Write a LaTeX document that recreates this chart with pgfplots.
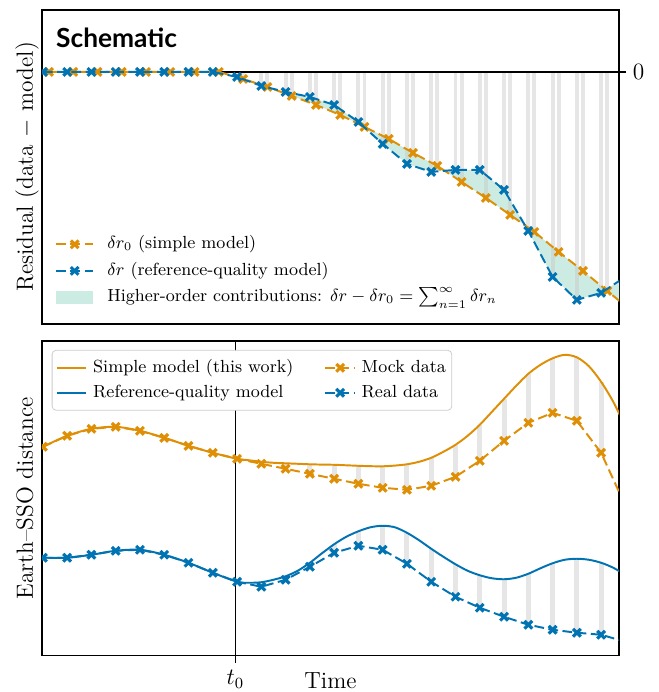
\documentclass[border=0pt]{standalone}
\usepackage{fontspec}
\usepackage{pgfplots}
\usepackage{pgfplotstable}
\pgfplotsset{compat=1.18}
\usepgfplotslibrary{fillbetween}
\newfontfamily\lato{Lato}
\definecolor{cbo}{HTML}{DE8F05}
\definecolor{cbb}{HTML}{0173B2}
\definecolor{cbg}{HTML}{029E73}
\definecolor{bargray}{HTML}{C8C8C8}

% top panel residuals
\pgfplotstableread{
x y
0 0
1 0
2 0
3 0
4 0
5 0
6 0
7 0
8 -5
9 -14
10 -20
11 -25
12 -33
13 -50
14 -72
15 -92
16 -100
17 -98
18 -98
19 -118
20 -159
21 -205
22 -228
23 -221
24 -205
}\topblue
\pgfplotstableread{
x y
0.25 0
1.25 0
2.25 0
3.25 0
4.25 0
5.25 0
6.25 0
7.25 0
8.25 -7
9.25 -15
10.25 -24
11.25 -33
12.25 -43
13.25 -55
14.25 -67
15.25 -81
16.25 -94
17.25 -110
18.25 -126
19.25 -143
20.25 -160
21.25 -180
22.25 -199
23.25 -219
24.25 -239
}\toporange

% bottom panel: data (d) and model at data epochs (m)
\pgfplotstableread{
x d m
0 209 209
1 220 220
2 227 227
3 229 229
4 225 225
5 218 218
6 210 210
7 203 203
8 197 197
9 192 194
10 187 192.5
11 182 191.5
12 177 191
13 172 190
14 168 189.5
15 166 191.5
16 170 198
17 179 211
18 195 231
19 215 257
20 233 282
21 243 297.5
22 235 298.5
23 203 274
24 150 229
}\mock
\pgfplotstableread{
x d m
0 98 98
1 98 98
2 101 101
3 105 105
4 106 106
5 101 101
6 93 93
7 83 83
8 74 74
9 69 73.5
10 76 79.5
11 89 93
12 103 111.5
13 110 124.5
14 106 130
15 92 123
16 74 107
17 59 91.5
18 48 80.5
19 39 76.5
20 31 82
21 26 92.5
22 23 97
23 21 93
24 14 81
}\real

% model curves
\pgfplotstableread{
x y
-0.5 203
0 209
1 220
2 227
3 229
4 225
5 218
6 210
7 203
8 197
8.5 195.5
9 194
9.5 193
10 192.5
10.5 192
11 191.5
11.5 191.2
12 191
12.5 190.5
13 190
13.5 189.6
14 189.5
14.5 190.2
15 191.5
15.5 194
16 198
16.5 204
17 211
17.5 220
18 231
18.5 244
19 257
19.5 270
20 282
20.5 291
21 297.5
21.5 301
22 298.5
22.5 289.5
23 274
23.5 254
24 229
24.5 200
}\simplemodel
\pgfplotstableread{
x y
-0.5 97
0 98
1 98
2 101
3 105
4 106
5 101
6 93
7 83
8 74
8.5 73
9 73.5
9.5 76
10 79.5
10.5 85
11 93
11.5 102.5
12 111.5
12.5 119
13 124.5
13.5 128.5
14 130
14.5 128.5
15 123
15.5 115.5
16 107
16.5 99
17 91.5
17.5 85
18 80.5
18.5 77.5
19 76.5
19.5 78
20 82
20.5 87.5
21 92.5
21.5 96
22 97
22.5 96
23 93
23.5 88
24 81
24.5 74
}\refmodel

\pgfplotsset{
 dashdata/.style={line width=1pt, dash pattern=on 5pt off 2.3pt, mark=x, mark size=2.8pt, mark options={solid, line width=1.6pt}},
 modelline/.style={line width=1pt, smooth, tension=0.5},
 lgtop/.style={legend image code/.code={\draw[mark repeat=2,mark phase=2] plot coordinates {(0cm,0cm) (0.335cm,0cm) (0.67cm,0cm)};}},
 lgbot/.style={legend image code/.code={\draw[mark repeat=2,mark phase=2] plot coordinates {(0cm,0cm) (0.265cm,0cm) (0.53cm,0cm)};}},
}

\begin{document}
\begin{tikzpicture}
% ---------------- top panel ----------------
\begin{axis}[
 at={(0,0)}, anchor=south west, scale only axis, width=296pt, height=161pt,
 xmin=-0.04, xmax=23.74, ymin=-252, ymax=62,
 xtick=\empty, ytick={0}, yticklabels={$0$}, ytick pos=right, yticklabel pos=right,
 tick align=outside, major tick length=3.6pt,
 tick style={black, line width=0.6pt},
 axis line style={line width=0.7pt},
 ticklabel style={font=\fontsize{12}{14}\selectfont},
 ylabel={Residual (data $-$ model)},
 ylabel style={at={(axis description cs:-0.0155,0.5)}, anchor=base, font=\fontsize{12}{14}\selectfont},
 clip marker paths=true,
 legend cell align=left,
 legend style={at={(axis description cs:0.012,0.035)}, anchor=south west, draw=none, fill=none,
   font=\fontsize{9}{11}\selectfont, nodes={inner sep=1pt, text height=7pt, text depth=2.5pt},
   row sep=2.1pt, /tikz/column 1/.style={column sep=5.7pt}},
]
\addplot[draw=none, name path=B, forget plot] table[x=x,y=y] {\topblue};
\addplot[draw=none, name path=O, forget plot] table[x=x,y=y] {\toporange};
\addplot[draw=none, fill=cbg!20, forget plot] fill between[of=B and O];
\addplot[ycomb, bargray, opacity=0.45, line width=2pt, forget plot] table[x=x,y=y] {\topblue};
\addplot[ycomb, bargray, opacity=0.45, line width=2pt, forget plot] table[x=x,y=y] {\toporange};
\addplot[black, line width=1.1pt, forget plot] coordinates {(-1,0) (25,0)};
\addplot[cbo, dashdata, forget plot] table[x=x,y=y] {\toporange};
\addplot[cbb, dashdata, forget plot] table[x=x,y=y] {\topblue};
\node[anchor=base west, inner sep=0pt, font=\lato\bfseries\fontsize{13.5}{16}\selectfont] at (axis description cs:0.024,0.879) {Schematic};
\addlegendimage{lgtop, cbo, dashdata}
\addlegendentry{$\delta r_0$ (simple model)}
\addlegendimage{lgtop, cbb, dashdata}
\addlegendentry{$\delta r$ (reference-quality model)}
\addlegendimage{legend image code/.code={\path[fill=cbg!20, draw=none] (0cm,-0.118cm) rectangle (0.67cm,0.118cm);}}
\addlegendentry{Higher-order contributions: $\delta r - \delta r_0 = \sum_{n=1}^{\infty} \delta r_n$}
\end{axis}
% ---------------- bottom panel ----------------
\begin{axis}[
 at={(0,-8.7pt)}, anchor=north west, scale only axis, width=296pt, height=161.5pt,
 xmin=-0.04, xmax=23.74, ymin=0, ymax=315,
 xtick={7.93}, xticklabels={$t_0$}, xtick pos=bottom, ytick=\empty,
 tick align=outside, major tick length=3.6pt,
 tick style={black, line width=0.6pt},
 axis line style={line width=0.7pt},
 ticklabel style={font=\fontsize{12}{14}\selectfont},
 xticklabel style={anchor=base, inner sep=0pt, yshift=-11.3pt},
 xlabel={Time},
 xlabel style={at={(axis description cs:0.5,0)}, anchor=base, inner sep=0pt, yshift=-16.9pt, font=\fontsize{12}{14}\selectfont},
 ylabel={Earth--SSO distance},
 ylabel style={at={(axis description cs:-0.0155,0.5)}, anchor=base, font=\fontsize{12}{14}\selectfont},
 clip marker paths=true,
 legend cell align=left,
 legend columns=2,
 legend style={at={(axis description cs:0.017,0.971)}, anchor=north west, draw=gray!40, rounded corners=2pt,
   fill=white, inner xsep=2pt, inner ysep=3.2pt,
   font=\fontsize{9}{11}\selectfont, nodes={inner sep=1pt, text height=7pt, text depth=2.5pt},
   row sep=1.3pt, /tikz/column 1/.style={column sep=2pt}, /tikz/column 2/.style={column sep=15pt},
   /tikz/column 3/.style={column sep=2pt}},
]
\addplot[draw=none, mark=none, forget plot, error bars/.cd, y dir=plus, y explicit, error mark=none,
  error bar style={draw=bargray, opacity=0.45, line width=2.6pt}] table[x=x, y=d, y error expr=\thisrow{m}-\thisrow{d}] {\mock};
\addplot[draw=none, mark=none, forget plot, error bars/.cd, y dir=plus, y explicit, error mark=none,
  error bar style={draw=bargray, opacity=0.45, line width=2.6pt}] table[x=x, y=d, y error expr=\thisrow{m}-\thisrow{d}] {\real};
\addplot[black, line width=0.5pt, forget plot] coordinates {(7.93,-5) (7.93,320)};
\addplot[cbo, modelline, forget plot] table[x=x,y=y] {\simplemodel};
\addplot[cbb, modelline, forget plot] table[x=x,y=y] {\refmodel};
\addplot[cbo, dashdata, forget plot] table[x=x,y=d] {\mock};
\addplot[cbb, dashdata, forget plot] table[x=x,y=d] {\real};
\addlegendimage{lgbot, cbo, line width=1pt}
\addlegendentry{Simple model (this work)}
\addlegendimage{lgbot, cbo, dashdata}
\addlegendentry{Mock data}
\addlegendimage{lgbot, cbb, line width=1pt}
\addlegendentry{Reference-quality model}
\addlegendimage{lgbot, cbb, dashdata}
\addlegendentry{Real data}
\end{axis}
\path (-21.5pt,-188.8pt) rectangle (316.4pt,166.1pt);
\end{tikzpicture}
\end{document}
